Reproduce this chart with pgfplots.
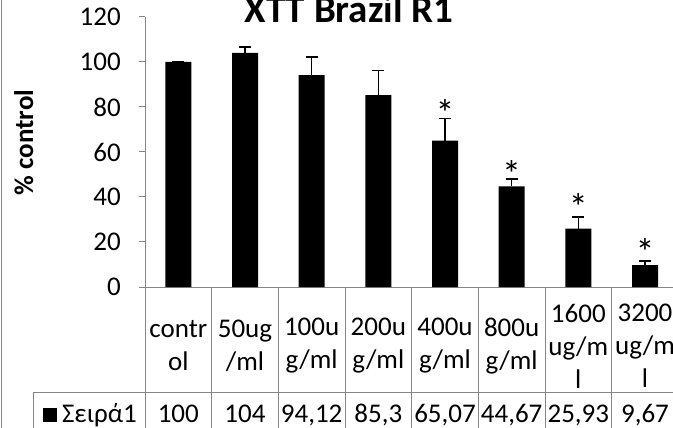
\documentclass[border=0pt]{standalone}
\usepackage{pgfplots}
\pgfplotsset{compat=1.18}
\usepackage{fontspec}
\setmainfont{Carlito}
\definecolor{axisgray}{RGB}{134,134,134}
\newcommand\fsz{\fontsize{27bp}{33bp}\selectfont}
\begin{document}
\begin{tikzpicture}
\path[use as bounding box] (0,0) rectangle (673bp,428bp);
\clip (0,0) rectangle (673bp,428bp);
\begin{axis}[
  at={(145bp,141bp)}, anchor=south west,
  scale only axis, width=533.333bp, height=270bp,
  xmin=-0.5, xmax=7.5, ymin=0, ymax=120,
  enlargelimits=false, clip=false,
  axis x line=bottom, axis y line=left,
  axis line style={-, draw=axisgray, line width=1bp},
  every outer x axis line/.append style={-},
  every outer y axis line/.append style={-},
  tick align=outside, major tick length=6bp,
  tick style={draw=axisgray, line width=1bp},
  major x tick style={draw=none},
  ytick={0,20,...,120},
  xtick={0,...,7},
  xticklabels={{contr\\ol},{50ug\\/ml},{100u\\g/ml},{200u\\g/ml},{400u\\g/ml},{800u\\g/ml},{1600\\ug/m\\l},{3200\\ug/m\\l}},
  xticklabel style={font=\fsz, align=center, anchor=center, inner sep=0pt, yshift=-53bp},
  yticklabel style={font=\fsz, anchor=east, inner sep=0pt, xshift=-18bp},
  /pgf/number format/assume math mode=true,
]
\addplot[ybar, bar width=26bp, fill=black, draw=none,
  error bars/.cd, y dir=plus, y explicit,
  error bar style={black, line width=1.3bp},
  error mark options={black, line width=1.3bp, mark size=6bp, rotate=90}]
  coordinates {
  (0,100) +- (0,0.3)
  (1,104) +- (0,2.7)
  (2,94.12) +- (0,8.1)
  (3,85.3) +- (0,10.8)
  (4,65.07) +- (0,9.9)
  (5,44.67) +- (0,3.3)
  (6,25.93) +- (0,5.2)
  (7,9.67) +- (0,1.9)
  };
\addplot[draw=none, mark=none, nodes near coords={*},
  every node near coord/.append style={anchor=base, inner sep=0pt, text=black, font=\fontsize{38bp}{40bp}\selectfont}]
  coordinates {(4,71.4) (5,44.3) (6,29.6) (7,9.6)};
\node[anchor=base, inner sep=0pt, font=\fsz] at ([yshift=-135bp]axis cs:0,0) {100};
\node[anchor=base, inner sep=0pt, font=\fsz] at ([yshift=-135bp]axis cs:1,0) {104};
\node[anchor=base, inner sep=0pt, font=\fsz] at ([yshift=-135bp]axis cs:2,0) {94,12};
\node[anchor=base, inner sep=0pt, font=\fsz] at ([yshift=-135bp]axis cs:3,0) {85,3};
\node[anchor=base, inner sep=0pt, font=\fsz] at ([yshift=-135bp]axis cs:4,0) {65,07};
\node[anchor=base, inner sep=0pt, font=\fsz] at ([yshift=-135bp]axis cs:5,0) {44,67};
\node[anchor=base, inner sep=0pt, font=\fsz] at ([yshift=-135bp]axis cs:6,0) {25,93};
\node[anchor=base, inner sep=0pt, font=\fsz] at ([yshift=-135bp]axis cs:7,0) {9,67};
\end{axis}
% data table grid
\foreach \k in {0,...,8} {
  \draw[axisgray, line width=1bp] ({145bp+66.6667bp*\k},141bp) -- ({145bp+66.6667bp*\k},0bp);
}
\draw[axisgray, line width=1bp] (33bp,35bp) -- (680bp,35bp);
\draw[axisgray, line width=1bp] (33bp,35bp) -- (33bp,0bp);
\draw[axisgray, line width=1bp] (1bp,0bp) -- (1bp,428bp);
% legend cell
\node[anchor=base, inner sep=0pt, font=\fsz] at (90bp,6bp) {\rule{14bp}{14bp}\hspace{5bp}Σειρά1};
% title and axis label
\node[anchor=base, inner sep=0pt, font=\fontsize{39bp}{42bp}\selectfont\bfseries] at (349bp,405.5bp) {XTT Brazil R1};
\node[anchor=base, inner sep=0pt, rotate=90, font=\fsz\bfseries] at (33bp,285.5bp) {\% control};
\end{tikzpicture}
\end{document}
